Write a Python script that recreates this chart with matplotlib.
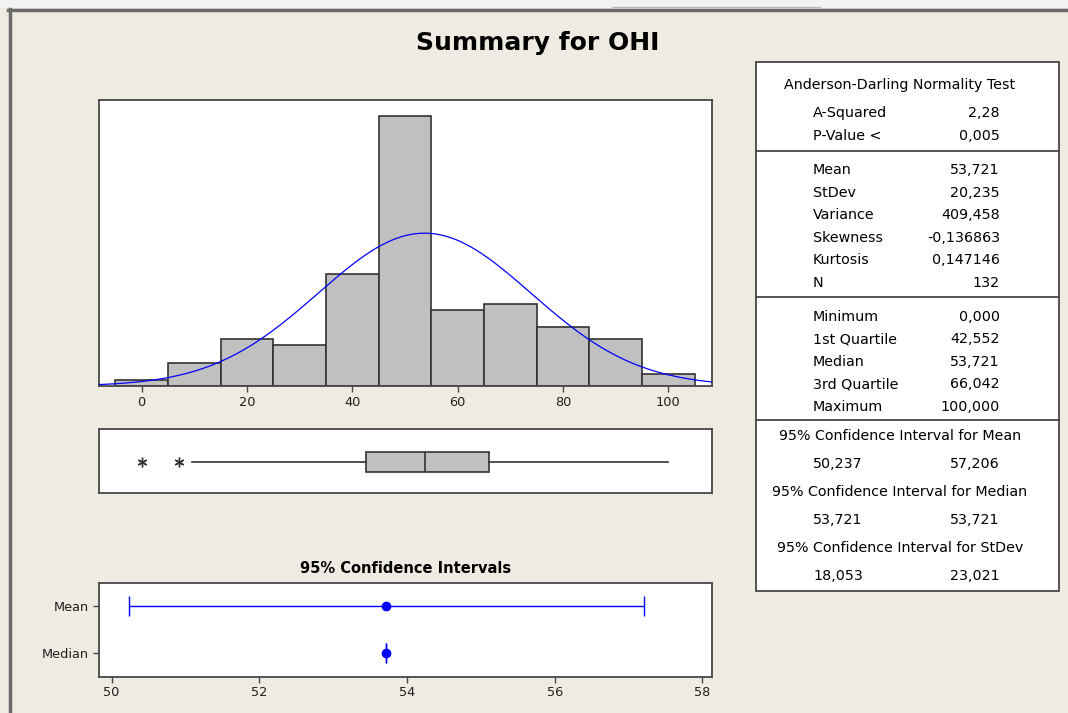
import matplotlib
matplotlib.use("Agg")
import matplotlib.pyplot as plt
from matplotlib.patches import Rectangle
from matplotlib.lines import Line2D
import numpy as np

W, H = 1068, 713

# histogram data (bins of width 10 centred on 0..100)
bin_centers = [0, 10, 20, 30, 40, 50, 60, 70, 80, 90, 100]
bin_counts = [1, 4, 8, 7, 19, 46, 13, 14, 10, 8, 2]
bin_width = 10

n_obs = 132
mean_val = 53.721
stdev_val = 20.235

# boxplot data
q1_val = 42.552
median_val = 53.721
q3_val = 66.042
whisker_low = 9.6
whisker_high = 100.0
outliers = [0.0, 7.0]

# confidence intervals
ci_labels = ["Median", "Mean"]
ci_centers = [53.721, 53.721]
ci_low = [53.721, 50.237]
ci_high = [53.721, 57.206]

# summary table
ad_title = "Anderson-Darling Normality Test"
ad_rows = [("A-Squared", "2,28"), ("P-Value <", "0,005")]
moment_rows = [("Mean", "53,721"), ("StDev", "20,235"), ("Variance", "409,458"),
               ("Skewness", "-0,136863"), ("Kurtosis", "0,147146"), ("N", "132")]
quantile_rows = [("Minimum", "0,000"), ("1st Quartile", "42,552"), ("Median", "53,721"),
                 ("3rd Quartile", "66,042"), ("Maximum", "100,000")]
ci_rows = [("95% Confidence Interval for Mean", "50,237", "57,206"),
           ("95% Confidence Interval for Median", "53,721", "53,721"),
           ("95% Confidence Interval for StDev", "18,053", "23,021")]

BG = "#EFEBE2"
EDGE = "#474747"
BAR = "#C0C0C0"
BLUE = "#0000FF"
FONT = "DejaVu Sans"
plt.rcParams["font.family"] = [FONT]


def fx(x):
    return x / W


def fy(y):
    return 1 - y / H


def ax_rect(x0, y0, x1, y1):
    return [fx(x0), fy(y1), (x1 - x0) / W, (y1 - y0) / H]


def style_axes(ax):
    for s in ax.spines.values():
        s.set_color(EDGE)
        s.set_linewidth(1.3)
    ax.tick_params(direction="out", length=4, width=1, color=EDGE,
                   labelsize=9.3, labelcolor="#202020", pad=3)


fig = plt.figure(figsize=(W / 100, H / 100), dpi=100, facecolor=BG)

# window frame bits
fig.add_artist(Rectangle((0, fy(8)), 1, 8 / H, transform=fig.transFigure,
                         facecolor="#F3F3F3", edgecolor="none"))
fig.add_artist(Line2D([fx(612), fx(820)], [fy(7), fy(7)], transform=fig.transFigure,
                      color="#B8B8B8", lw=1))
fig.add_artist(Line2D([fx(8), 1], [fy(10), fy(10)], transform=fig.transFigure,
                      color="#6A6A6A", lw=2.5))
fig.add_artist(Line2D([fx(9.5), fx(9.5)], [0, fy(9)], transform=fig.transFigure,
                      color="#6A6A6A", lw=2.5))

fig.text(fx(538), fy(43), "Summary for OHI", ha="center", va="center",
         fontsize=18, fontweight="bold", color="black")

# histogram
xlim = (-8.1, 108.3)
ax_h = fig.add_axes(ax_rect(99, 100, 712, 386))
ax_h.bar(bin_centers, bin_counts, width=bin_width, color=BAR, edgecolor="#333333",
         linewidth=1.2, zorder=2)
xs = np.linspace(xlim[0], xlim[1], 400)
pdf = np.exp(-0.5 * ((xs - mean_val) / stdev_val) ** 2) / (stdev_val * np.sqrt(2 * np.pi))
ax_h.plot(xs, pdf * n_obs * bin_width, color=BLUE, lw=0.9, zorder=3)
ax_h.set_xlim(xlim)
ax_h.set_ylim(0, 48.7)
ax_h.set_xticks([0, 20, 40, 60, 80, 100])
ax_h.set_yticks([])
style_axes(ax_h)

# boxplot
ax_b = fig.add_axes(ax_rect(99, 429, 712, 493))
stats = [{"med": median_val, "q1": q1_val, "q3": q3_val, "whislo": whisker_low,
          "whishi": whisker_high, "fliers": outliers}]
ax_b.bxp(stats, positions=[0.48], widths=0.31, vert=False, patch_artist=True,
         showcaps=False,
         boxprops=dict(facecolor=BAR, edgecolor="#333333", linewidth=1.2),
         medianprops=dict(color="#333333", linewidth=1.2),
         whiskerprops=dict(color="#333333", linewidth=1.2),
         flierprops=dict(marker=(6, 2, 0), markersize=7, markeredgecolor="#333333",
                         markeredgewidth=1, linestyle="none"))
ax_b.set_xlim(xlim)
ax_b.set_ylim(0, 1)
ax_b.set_xticks([])
ax_b.set_yticks([])
style_axes(ax_b)

# confidence intervals
ax_c = fig.add_axes(ax_rect(99, 583, 712, 676.5))
ypos = np.arange(len(ci_labels))
xerr = [np.array(ci_centers) - np.array(ci_low), np.array(ci_high) - np.array(ci_centers)]
ax_c.errorbar(ci_centers, ypos, xerr=xerr, fmt="o", color=BLUE, ms=6, elinewidth=1,
              capsize=7, capthick=1)
ax_c.set_xlim(49.83, 58.13)
ax_c.set_ylim(-0.5, 1.5)
ax_c.set_xticks([50, 52, 54, 56, 58])
ax_c.set_yticks(ypos)
ax_c.set_yticklabels(ci_labels)
style_axes(ax_c)
ax_c.set_title("95% Confidence Intervals", fontsize=10.5, fontweight="bold", pad=7)

# summary table
fig.add_artist(Rectangle((fx(756), fy(591)), (1059 - 756) / W, (591 - 62) / H,
                         transform=fig.transFigure, facecolor="white",
                         edgecolor=EDGE, lw=1.3))
for yy in [150.7, 297.3, 419.7]:
    fig.add_artist(Line2D([fx(756), fx(1059)], [fy(yy), fy(yy)],
                          transform=fig.transFigure, color=EDGE, lw=1.3))

tkw = dict(fontsize=10.3, color="black", va="center")
lab_x, val_x, mid_x = 813, 1000, 900
fig.text(fx(mid_x), fy(85), ad_title, ha="center", **tkw)
row_y = {0: [113, 136], 1: [170, 193, 215, 238, 260, 283], 2: [317, 339, 362, 384, 407]}
for k, rows in enumerate([ad_rows, moment_rows, quantile_rows]):
    for (lab, val), yy in zip(rows, row_y[k]):
        fig.text(fx(lab_x), fy(yy), lab, ha="left", **tkw)
        fig.text(fx(val_x), fy(yy), val, ha="right", **tkw)
for i, (head, lo, hi) in enumerate(ci_rows):
    yh = 436 + i * 56
    fig.text(fx(mid_x), fy(yh), head, ha="center", **tkw)
    fig.text(fx(lab_x), fy(yh + 28), lo, ha="left", **tkw)
    fig.text(fx(val_x), fy(yh + 28), hi, ha="right", **tkw)

fig.savefig("out.png", dpi=100, facecolor=BG)
